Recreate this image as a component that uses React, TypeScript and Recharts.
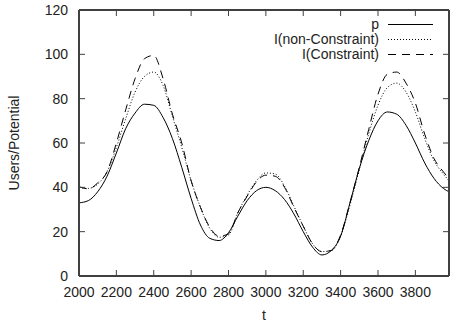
import { LineChart, Line, XAxis, YAxis, Legend } from 'recharts';

const tValues = [
  2000, 2050, 2100, 2150, 2200, 2250, 2300, 2350, 2400, 2450, 2500, 2550, 2600, 2650,
  2700, 2750, 2800, 2850, 2900, 2950, 3000, 3050, 3100, 3150, 3200, 3250, 3300, 3350,
  3400, 3450, 3500, 3550, 3600, 3650, 3700, 3750, 3800, 3850, 3900, 3950, 3980,
];

const pValues = [
  33, 34, 38, 45, 55.5, 66.5, 73.5, 77.5, 77, 71.5, 62, 49, 35, 23,
  17, 16, 19.5, 27, 34, 38.5, 40, 38.5, 34.5, 28, 20, 13, 9.5, 11.5,
  18, 33, 48.5, 61, 70, 74, 73, 68, 60, 51, 44, 39.5, 38,
];

const nonConstraintValues = [
  40, 39.5, 41.5, 47, 58, 71, 83, 90, 92, 86, 72, 58, 43, 31,
  21.5, 17.5, 18.5, 28.5, 36.5, 43, 46.5, 46, 40.5, 31.5, 22.5, 14.5, 11, 11.5,
  18, 32, 48, 64, 77, 85, 87, 83, 74, 62, 52, 46, 43,
];

const constraintValues = [
  40.3, 39.3, 42, 47, 60, 75, 89, 98, 99.5, 89, 73, 60, 43, 31,
  22, 18, 19, 28.5, 36, 42.5, 45.5, 45, 40, 31, 22.5, 14.5, 11, 11.5,
  18.5, 33, 49, 66, 82, 91, 92, 87, 78, 64, 53, 47, 44,
];

const xTicks = [2000, 2200, 2400, 2600, 2800, 3000, 3200, 3400, 3600, 3800];
const yTicks = [0, 20, 40, 60, 80, 100, 120];

const series = [
  { key: 'p', name: 'p', dash: undefined as string | undefined },
  { key: 'nc', name: 'I(non-Constraint)', dash: '1 2' },
  { key: 'c', name: 'I(Constraint)', dash: '8 6' },
];

const data = tValues.map((t, i) => ({
  t,
  p: pValues[i],
  nc: nonConstraintValues[i],
  c: constraintValues[i],
}));

const FONT = '"Liberation Sans", Arial, Helvetica, sans-serif';
const FRAME = '#404040';
const TEXT = '#222';

const renderLegend = () => (
  <div style={{ width: 450, fontFamily: FONT, fontSize: 14, color: TEXT }}>
    {series.map(s => (
      <div
        key={s.key}
        style={{ display: 'flex', alignItems: 'center', justifyContent: 'flex-end', height: 15, paddingRight: 17 }}
      >
        <span style={{ marginRight: 9, lineHeight: '15px' }}>{s.name}</span>
        <svg width={45} height={15} style={{ display: 'block' }}>
          <line x1={0} y1={7.5} x2={45} y2={7.5} stroke="#000" strokeWidth={1} strokeDasharray={s.dash} />
        </svg>
      </div>
    ))}
  </div>
);

const yLabel = (props: any) => {
  const vb = props.viewBox;
  const cy = vb.y + vb.height / 2;
  return (
    <text x={14} y={cy} transform={`rotate(-90, 14, ${cy})`} textAnchor="middle" dominantBaseline="central"
      fontFamily={FONT} fontSize={14} fill={TEXT}>
      Users/Potential
    </text>
  );
};

const xLabel = (props: any) => {
  const vb = props.viewBox;
  return (
    <text x={vb.x + vb.width / 2} y={320} textAnchor="middle" fontFamily={FONT} fontSize={14} fill={TEXT}>
      t
    </text>
  );
};

const tickStyle = { fontFamily: FONT, fontSize: 14, fill: TEXT };

export default function App() {
  return (
    <div style={{ position: 'fixed', left: 0, top: 0, background: '#fff' }}>
      <LineChart width={450} height={327} data={data} margin={{ top: 10, right: 1, bottom: 0, left: 0 }}>
        <XAxis
          xAxisId="b"
          dataKey="t"
          type="number"
          domain={[2000, 3980]}
          allowDataOverflow
          ticks={xTicks}
          height={51}
          tickSize={-6}
          tickMargin={17}
          tick={tickStyle}
          axisLine={{ stroke: FRAME, strokeWidth: 2 }}
          tickLine={{ stroke: FRAME, strokeWidth: 1 }}
          label={xLabel}
        />
        <XAxis
          xAxisId="t"
          orientation="top"
          mirror
          dataKey="t"
          type="number"
          domain={[2000, 3980]}
          allowDataOverflow
          ticks={xTicks}
          tickSize={6}
          tickFormatter={() => ''}
          axisLine={{ stroke: FRAME, strokeWidth: 2 }}
          tickLine={{ stroke: FRAME, strokeWidth: 1 }}
        />
        <YAxis
          yAxisId="l"
          type="number"
          domain={[0, 120]}
          allowDataOverflow
          ticks={yTicks}
          width={79}
          tickSize={-6}
          tickMargin={17}
          tick={tickStyle}
          axisLine={{ stroke: FRAME, strokeWidth: 2 }}
          tickLine={{ stroke: FRAME, strokeWidth: 1 }}
          label={yLabel}
        />
        <YAxis
          yAxisId="r"
          orientation="right"
          mirror
          type="number"
          domain={[0, 120]}
          allowDataOverflow
          ticks={yTicks}
          tickSize={6}
          tickFormatter={() => ''}
          axisLine={{ stroke: FRAME, strokeWidth: 2 }}
          tickLine={{ stroke: FRAME, strokeWidth: 1 }}
        />
        <Legend
          layout="horizontal"
          verticalAlign="middle"
          align="center"
          content={renderLegend}
          wrapperStyle={{ top: 17, left: 0, width: 450 }}
        />
        {series.map(s => (
          <Line
            key={s.key}
            xAxisId="b"
            yAxisId="l"
            dataKey={s.key}
            name={s.name}
            type="monotone"
            stroke="#000"
            strokeWidth={1}
            strokeDasharray={s.dash}
            dot={false}
            activeDot={false}
            isAnimationActive={false}
          />
        ))}
      </LineChart>
    </div>
  );
}
